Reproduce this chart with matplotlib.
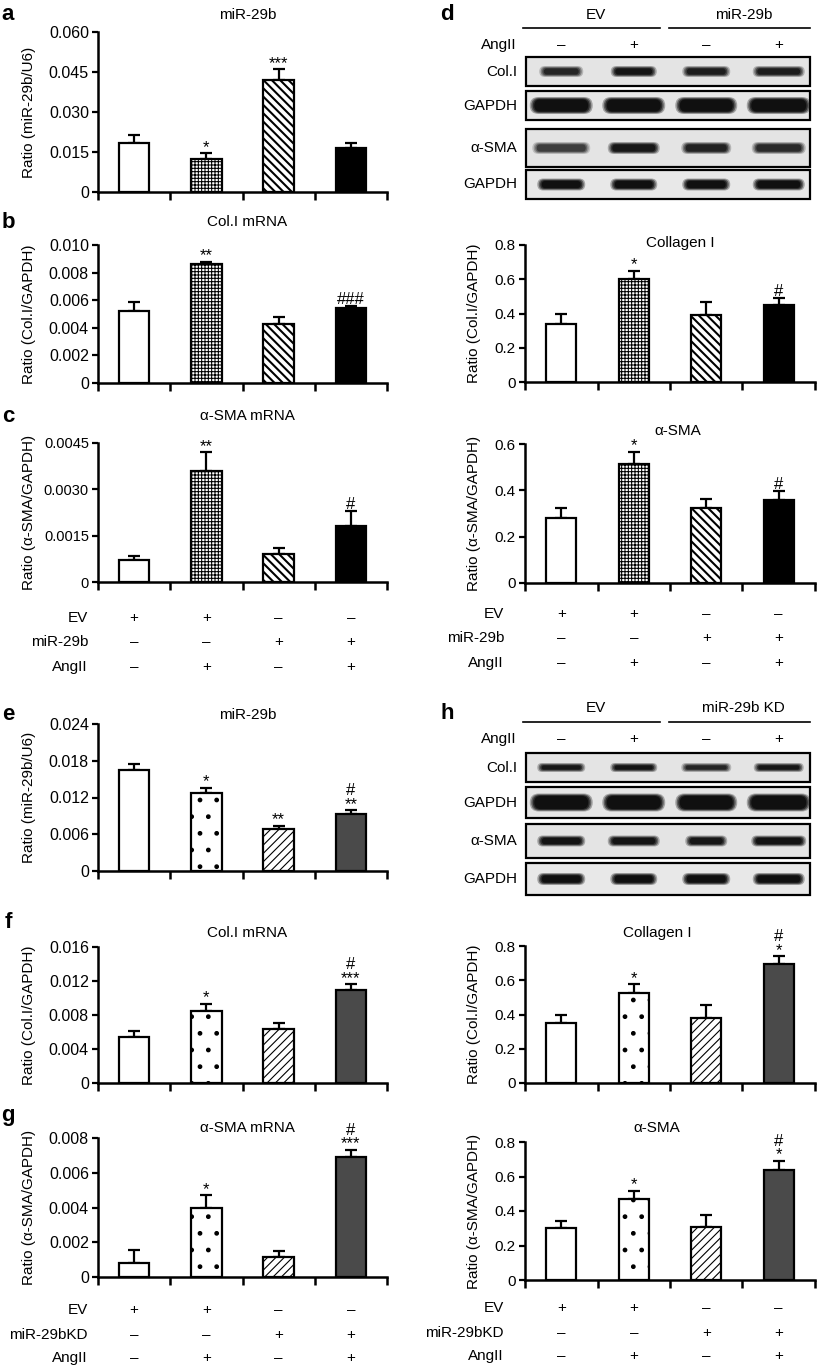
import matplotlib
matplotlib.use("Agg")
import matplotlib.pyplot as plt
import matplotlib.transforms as mtransforms
from matplotlib.patches import FancyBboxPatch, Rectangle
import numpy as np

plt.rcParams['font.family'] = ['Liberation Sans', 'DejaVu Sans']

W, H = 817, 1367

# ---------------------------------------------------------------
# values (mean, SEM, significance marks)
# ---------------------------------------------------------------
# a-d: miR-29b overexpression
a_mean = [0.0185, 0.0125, 0.042, 0.0165]
a_sem = [0.003, 0.002, 0.004, 0.002]
a_sig = ["", "*", "***", ""]

b_mean = [0.0052, 0.0086, 0.0043, 0.0054]
b_sem = [0.0007, 0.0002, 0.0005, 0.0002]
b_sig = ["", "**", "", "###"]

c_mean = [0.0007, 0.0036, 0.0009, 0.0018]
c_sem = [0.00015, 0.0006, 0.0002, 0.0005]
c_sig = ["", "**", "", "#"]

d_col_mean = [0.34, 0.60, 0.39, 0.45]
d_col_sem = [0.055, 0.05, 0.075, 0.04]
d_col_sig = ["", "*", "", "#"]

d_sma_mean = [0.28, 0.515, 0.325, 0.36]
d_sma_sem = [0.043, 0.05, 0.036, 0.037]
d_sma_sig = ["", "*", "", "#"]

# e-h: miR-29b knockdown
e_mean = [0.0165, 0.0128, 0.0069, 0.0093]
e_sem = [0.001, 0.0008, 0.0005, 0.0006]
e_sig = ["", "*", "**", "#\n**"]

f_mean = [0.0054, 0.0085, 0.0064, 0.011]
f_sem = [0.0007, 0.0008, 0.0007, 0.0006]
f_sig = ["", "*", "", "#\n***"]

g_mean = [0.0008, 0.004, 0.00115, 0.0069]
g_sem = [0.00075, 0.0007, 0.00035, 0.0004]
g_sig = ["", "*", "", "#\n***"]

h_col_mean = [0.352, 0.527, 0.38, 0.697]
h_col_sem = [0.043, 0.049, 0.077, 0.043]
h_col_sig = ["", "*", "", "#\n*"]

h_sma_mean = [0.299, 0.468, 0.308, 0.636]
h_sma_sem = [0.042, 0.049, 0.068, 0.054]
h_sma_sig = ["", "*", "", "#\n*"]

# treatment tables
ev_row = ["+", "+", "\u2013", "\u2013"]
mir_row = ["\u2013", "\u2013", "+", "+"]
ang_row = ["\u2013", "+", "\u2013", "+"]
ang_blot = ["\u2013", "+", "\u2013", "+"]

# western blot band intensity (0 = none, 1 = saturated), estimated
d_colI_band = [0.72, 0.92, 0.8, 0.8]
d_gapdh1_band = [1.0, 1.0, 1.0, 1.0]
d_sma_band = [0.55, 0.88, 0.75, 0.68]
d_gapdh2_band = [1.0, 1.0, 1.0, 1.0]
h_colI_band = [0.88, 0.92, 0.72, 0.88]
h_gapdh1_band = [1.0, 1.0, 1.0, 1.0]
h_sma_band = [0.95, 0.92, 0.9, 0.95]
h_gapdh2_band = [1.0, 1.0, 1.0, 1.0]

# bar styles: (fill, hatch, hatch linewidth)
style_ad = [("white", None, 1.0), ("white", "+++++", 0.75),
            ("white", "\\\\\\\\", 1.5), ("black", None, 1.0)]
style_eh = [("white", None, 1.0), ("white", ".", 1.0),
            ("white", "////", 0.8), ("#4a4a4a", None, 1.0)]


def px_rect(left, top, right, bottom):
    return [left / W, 1 - bottom / H, (right - left) / W, (bottom - top) / H]


def fy(y):
    return 1 - y / H


def bar_panel(fig, rect, means, sems, sig, yticks, yticklabels, ylabel, title,
              title_gap, style, ylabel_x, tick_fs=11.5, title_dx=0):
    ax = fig.add_axes(px_rect(*rect))
    x = np.arange(len(means)) + 0.5
    bars = ax.bar(x, means, width=0.42, color="white", edgecolor="black",
                  linewidth=1.6, zorder=3)
    for patch, (fill, hatch, hlw) in zip(bars, style):
        patch.set_facecolor(fill)
        if hatch:
            patch.set_hatch(hatch)
            if hasattr(patch, "set_hatch_linewidth"):
                patch.set_hatch_linewidth(hlw)
    ax.errorbar(x, means, yerr=[np.zeros(len(means)), sems], fmt="none",
                ecolor="black", elinewidth=1.6, capsize=4.5, capthick=1.6,
                zorder=2)
    for xi, m, s, t in zip(x, means, sems, sig):
        if t:
            ax.annotate(t, (xi, m + s), xytext=(0, -1),
                        textcoords="offset points", ha="center", va="bottom",
                        fontsize=12, linespacing=0.9,
                        annotation_clip=False)

    ax.set_xlim(0, 4)
    ax.set_ylim(0, yticks[-1])
    ax.spines[["top", "right"]].set_visible(False)
    for side in ("left", "bottom"):
        ax.spines[side].set_linewidth(1.8)
    ax.set_xticks(range(5))
    ax.set_xticklabels([])
    ax.tick_params(axis="x", length=6, width=1.8, direction="out")
    ax.set_yticks(yticks)
    ax.set_yticklabels(yticklabels, fontsize=tick_fs)
    ax.tick_params(axis="y", length=4.5, width=1.6, pad=2)

    w_px = rect[2] - rect[0]
    h_px = rect[3] - rect[1]
    ax.text(0.5 + title_dx / w_px, 1 + title_gap / h_px, title,
            transform=ax.transAxes, ha="center", va="center", fontsize=11)
    fig.text(ylabel_x / W, fy((rect[1] + rect[3]) / 2), ylabel, rotation=90,
             ha="center", va="center", fontsize=11)
    return ax


def condition_table(fig, ax, rows, ys, label_x):
    # treatment +/- rows, columns follow the bars of ax
    trans = mtransforms.blended_transform_factory(ax.transData, fig.transFigure)
    for (name, signs), y in zip(rows, ys):
        fig.text(label_x / W, fy(y), name, ha="right", va="center", fontsize=11)
        for i, s in enumerate(signs):
            ax.text(i + 0.5, fy(y), s, transform=trans, ha="center",
                    va="center", fontsize=11, clip_on=False)


def blot_block(fig, top, bottom, groups, group_y, line_y, ang_y, strips):
    # axes in figure pixels, lanes sit over the bar centres below
    left, right = 525, 815
    ax = fig.add_axes(px_rect(left, top, right, bottom))
    ax.set_xlim(left, right)
    ax.set_ylim(bottom, top)
    ax.axis("off")
    lane_w = (right - left) / 4.0
    lanes = [left + lane_w * (i + 0.5) for i in range(4)]

    spans = [(523, 660), (669, 810)]
    for (x0, x1), name in zip(spans, groups):
        ax.plot([x0, x1], [line_y, line_y], color="black", lw=1.2,
                clip_on=False)
        ax.text((x0 + x1) / 2 + 4, group_y, name, ha="center", va="center",
                fontsize=11, clip_on=False)
    ax.text(517, ang_y, "AngII", ha="right", va="center", fontsize=11,
            clip_on=False)
    for cx, s in zip(lanes, ang_blot):
        ax.text(cx, ang_y, s, ha="center", va="center", fontsize=11)

    for label, y0, y1, bands, bw, bh, bg in strips:
        ax.add_patch(Rectangle((526, y0), 284, y1 - y0, facecolor=bg,
                               edgecolor="black", lw=1.6, clip_on=False,
                               zorder=1))
        ax.text(517, (y0 + y1) / 2, label, ha="right", va="center",
                fontsize=11, clip_on=False)
        yc = (y0 + y1) / 2
        for cx, w, dark in zip(lanes, bw, bands):
            # soft-edged band: stacked rounded pills
            for k, a in enumerate((0.3, 0.45, 0.6, 0.8)):
                wk, hk = w - 3 * k, bh - 1.6 * k
                ax.add_patch(FancyBboxPatch(
                    (cx - wk / 2, yc - hk / 2), wk, hk,
                    boxstyle="round,pad=0,rounding_size=%.2f" % (hk / 2),
                    facecolor="#0a0a0a", edgecolor="none", alpha=a * dark,
                    zorder=2))
    return ax


def main():
    fig = plt.figure(figsize=(W / 100, H / 100), dpi=100)

    # ---------------- left column: a, b, c ----------------
    bar_panel(fig, (98, 32, 387, 192), a_mean, a_sem, a_sig,
              [0, 0.015, 0.030, 0.045, 0.060],
              ["0", "0.015", "0.030", "0.045", "0.060"],
              "Ratio (miR-29b/U6)", "miR-29b", 17, style_ad, 29, title_dx=5)
    bar_panel(fig, (98, 245, 387, 383), b_mean, b_sem, b_sig,
              [0, 0.002, 0.004, 0.006, 0.008, 0.010],
              ["0", "0.002", "0.004", "0.006", "0.008", "0.010"],
              "Ratio (Col.I/GAPDH)", "Col.I mRNA", 23, style_ad, 29,
              title_dx=5)
    ax_c = bar_panel(fig, (98, 443, 387, 582), c_mean, c_sem, c_sig,
                     [0, 0.0015, 0.0030, 0.0045],
                     ["0", "0.0015", "0.0030", "0.0045"],
                     "Ratio (\u03b1-SMA/GAPDH)", "\u03b1-SMA mRNA", 27,
                     style_ad, 29, tick_fs=10.5, title_dx=5)
    condition_table(fig, ax_c, [("EV", ev_row), ("miR-29b", mir_row),
                                ("AngII", ang_row)], [618, 642, 667], 88)

    # ---------------- right column: d ----------------
    blot_block(fig, 0, 205, ["EV", "miR-29b"], 15, 28, 45, [
        ("Col.I", 57, 86, d_colI_band, [44, 46, 48, 52], 11, "#e4e4e4"),
        ("GAPDH", 91, 120, d_gapdh1_band, [63, 63, 62, 64], 17, "#e6e6e6"),
        ("\u03b1-SMA", 129, 167, d_sma_band, [58, 52, 50, 54], 12, "#e4e4e4"),
        ("GAPDH", 170, 199, d_gapdh2_band, [48, 47, 48, 52], 12, "#e8e8e8"),
    ])
    bar_panel(fig, (525, 245, 815, 382), d_col_mean, d_col_sem, d_col_sig,
              [0, 0.2, 0.4, 0.6, 0.8], ["0", "0.2", "0.4", "0.6", "0.8"],
              "Ratio (Col.I/GAPDH)", "Collagen I", 2, style_ad, 474,
              tick_fs=11, title_dx=10)
    ax_d = bar_panel(fig, (525, 444, 815, 583), d_sma_mean, d_sma_sem,
                     d_sma_sig, [0, 0.2, 0.4, 0.6], ["0", "0.2", "0.4", "0.6"],
                     "Ratio (\u03b1-SMA/GAPDH)", "\u03b1-SMA", 13, style_ad,
                     474, tick_fs=11, title_dx=8)
    condition_table(fig, ax_d, [("EV", ev_row), ("miR-29b", mir_row),
                                ("AngII", ang_row)], [614, 638, 663], 504)

    # ---------------- left column: e, f, g ----------------
    bar_panel(fig, (98, 724, 387, 871), e_mean, e_sem, e_sig,
              [0, 0.006, 0.012, 0.018, 0.024],
              ["0", "0.006", "0.012", "0.018", "0.024"],
              "Ratio (miR-29b/U6)", "miR-29b", 9, style_eh, 29, title_dx=5)
    bar_panel(fig, (98, 947, 387, 1083), f_mean, f_sem, f_sig,
              [0, 0.004, 0.008, 0.012, 0.016],
              ["0", "0.004", "0.008", "0.012", "0.016"],
              "Ratio (Col.I/GAPDH)", "Col.I mRNA", 14, style_eh, 29,
              title_dx=5)
    ax_g = bar_panel(fig, (98, 1138, 387, 1277), g_mean, g_sem, g_sig,
                     [0, 0.002, 0.004, 0.006, 0.008],
                     ["0", "0.002", "0.004", "0.006", "0.008"],
                     "Ratio (\u03b1-SMA/GAPDH)", "\u03b1-SMA mRNA", 10,
                     style_eh, 29, title_dx=5)
    condition_table(fig, ax_g, [("EV", ev_row), ("miR-29bKD", mir_row),
                                ("AngII", ang_row)], [1310, 1335, 1358], 88)

    # ---------------- right column: h ----------------
    blot_block(fig, 693, 900, ["EV", "miR-29b KD"], 708, 722, 739, [
        ("Col.I", 753, 782, h_colI_band, [48, 47, 50, 50], 9, "#e4e4e4"),
        ("GAPDH", 787, 818, h_gapdh1_band, [63, 63, 62, 64], 18, "#e6e6e6"),
        ("\u03b1-SMA", 824, 858, h_sma_band, [48, 52, 42, 55], 11, "#e4e4e4"),
        ("GAPDH", 863, 895, h_gapdh2_band, [48, 47, 48, 52], 12, "#e8e8e8"),
    ])
    bar_panel(fig, (525, 946, 815, 1083), h_col_mean, h_col_sem, h_col_sig,
              [0, 0.2, 0.4, 0.6, 0.8], ["0", "0.2", "0.4", "0.6", "0.8"],
              "Ratio (Col.I/GAPDH)", "Collagen I", 13, style_eh, 474,
              tick_fs=11, title_dx=-13)
    ax_h = bar_panel(fig, (525, 1142, 815, 1280), h_sma_mean, h_sma_sem,
                     h_sma_sig, [0, 0.2, 0.4, 0.6, 0.8],
                     ["0", "0.2", "0.4", "0.6", "0.8"],
                     "Ratio (\u03b1-SMA/GAPDH)", "\u03b1-SMA", 14, style_eh,
                     474, tick_fs=11, title_dx=-13)
    condition_table(fig, ax_h, [("EV", ev_row), ("miR-29bKD", mir_row),
                                ("AngII", ang_row)], [1308, 1333, 1356], 504)

    # panel letters
    for letter, x, y in [("a", 8, 15), ("b", 8, 222), ("c", 8, 417),
                         ("d", 447, 15), ("e", 8, 715), ("f", 8, 923),
                         ("g", 8, 1115), ("h", 447, 713)]:
        fig.text(x / W, fy(y), letter, fontsize=16, fontweight="bold",
                 ha="center", va="center")

    fig.savefig("out.png", dpi=100)


if __name__ == "__main__":
    main()
